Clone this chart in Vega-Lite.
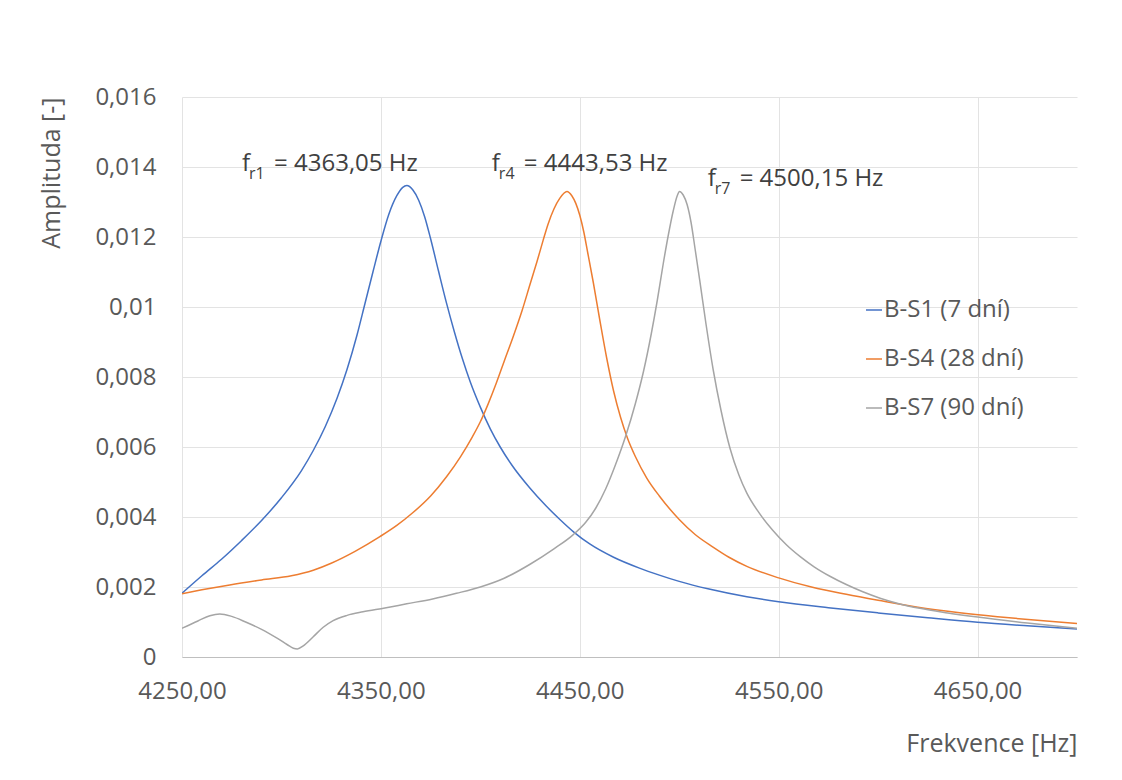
{
  "$schema": "https://vega.github.io/schema/vega-lite/v6.json",
  "width": 895,
  "height": 560,
  "autosize": "none",
  "padding": {"left": 182, "top": 97, "right": 45, "bottom": 123},
  "background": "white",
  "config": {
    "font": "Open Sans",
    "view": {"stroke": null},
    "axis": {
      "labelFont": "Open Sans",
      "titleFont": "Open Sans",
      "labelFontSize": 24,
      "titleFontSize": 25,
      "titleFontWeight": "normal",
      "labelColor": "#595959",
      "titleColor": "#595959",
      "ticks": false,
      "gridColor": "#e3e3e3",
      "gridWidth": 1
    },
    "legend": {
      "labelFont": "Open Sans",
      "labelFontSize": 24,
      "labelColor": "#595959"
    }
  },
  "datasets": {
    "curves": [
      {"s": "B-S1 (7 dní)", "f": 4250, "A": 0.00182},
      {"s": "B-S1 (7 dní)", "f": 4260, "A": 0.00232},
      {"s": "B-S1 (7 dní)", "f": 4270, "A": 0.0028},
      {"s": "B-S1 (7 dní)", "f": 4280, "A": 0.00333},
      {"s": "B-S1 (7 dní)", "f": 4290, "A": 0.0039},
      {"s": "B-S1 (7 dní)", "f": 4300, "A": 0.00455},
      {"s": "B-S1 (7 dní)", "f": 4310, "A": 0.00532},
      {"s": "B-S1 (7 dní)", "f": 4316, "A": 0.0059},
      {"s": "B-S1 (7 dní)", "f": 4322, "A": 0.00658},
      {"s": "B-S1 (7 dní)", "f": 4328, "A": 0.0074},
      {"s": "B-S1 (7 dní)", "f": 4333, "A": 0.00822},
      {"s": "B-S1 (7 dní)", "f": 4338, "A": 0.0092},
      {"s": "B-S1 (7 dní)", "f": 4342, "A": 0.0101},
      {"s": "B-S1 (7 dní)", "f": 4346, "A": 0.011},
      {"s": "B-S1 (7 dní)", "f": 4350, "A": 0.01188},
      {"s": "B-S1 (7 dní)", "f": 4354, "A": 0.01265},
      {"s": "B-S1 (7 dní)", "f": 4358, "A": 0.01318},
      {"s": "B-S1 (7 dní)", "f": 4361, "A": 0.01342},
      {"s": "B-S1 (7 dní)", "f": 4363.05, "A": 0.01347},
      {"s": "B-S1 (7 dní)", "f": 4366, "A": 0.01335},
      {"s": "B-S1 (7 dní)", "f": 4369, "A": 0.01305},
      {"s": "B-S1 (7 dní)", "f": 4372, "A": 0.01258},
      {"s": "B-S1 (7 dní)", "f": 4375, "A": 0.01195},
      {"s": "B-S1 (7 dní)", "f": 4379, "A": 0.01102},
      {"s": "B-S1 (7 dní)", "f": 4383, "A": 0.01011},
      {"s": "B-S1 (7 dní)", "f": 4387, "A": 0.00928},
      {"s": "B-S1 (7 dní)", "f": 4391, "A": 0.00852},
      {"s": "B-S1 (7 dní)", "f": 4395, "A": 0.00785},
      {"s": "B-S1 (7 dní)", "f": 4400, "A": 0.00714},
      {"s": "B-S1 (7 dní)", "f": 4405, "A": 0.00652},
      {"s": "B-S1 (7 dní)", "f": 4410, "A": 0.006},
      {"s": "B-S1 (7 dní)", "f": 4416, "A": 0.00547},
      {"s": "B-S1 (7 dní)", "f": 4425, "A": 0.00482},
      {"s": "B-S1 (7 dní)", "f": 4433, "A": 0.00432},
      {"s": "B-S1 (7 dní)", "f": 4440, "A": 0.00393},
      {"s": "B-S1 (7 dní)", "f": 4447, "A": 0.00357},
      {"s": "B-S1 (7 dní)", "f": 4455, "A": 0.00323},
      {"s": "B-S1 (7 dní)", "f": 4467, "A": 0.00285},
      {"s": "B-S1 (7 dní)", "f": 4480, "A": 0.00254},
      {"s": "B-S1 (7 dní)", "f": 4490, "A": 0.00234},
      {"s": "B-S1 (7 dní)", "f": 4500, "A": 0.00216},
      {"s": "B-S1 (7 dní)", "f": 4515, "A": 0.00194},
      {"s": "B-S1 (7 dní)", "f": 4534, "A": 0.00172},
      {"s": "B-S1 (7 dní)", "f": 4550, "A": 0.00158},
      {"s": "B-S1 (7 dní)", "f": 4575, "A": 0.00141},
      {"s": "B-S1 (7 dní)", "f": 4600, "A": 0.00126},
      {"s": "B-S1 (7 dní)", "f": 4625, "A": 0.00112},
      {"s": "B-S1 (7 dní)", "f": 4650, "A": 0.00099},
      {"s": "B-S1 (7 dní)", "f": 4675, "A": 0.00089},
      {"s": "B-S1 (7 dní)", "f": 4700, "A": 0.0008},

      {"s": "B-S4 (28 dní)", "f": 4250, "A": 0.00181},
      {"s": "B-S4 (28 dní)", "f": 4260, "A": 0.00192},
      {"s": "B-S4 (28 dní)", "f": 4274, "A": 0.00206},
      {"s": "B-S4 (28 dní)", "f": 4290, "A": 0.0022},
      {"s": "B-S4 (28 dní)", "f": 4305, "A": 0.00232},
      {"s": "B-S4 (28 dní)", "f": 4316, "A": 0.00248},
      {"s": "B-S4 (28 dní)", "f": 4325, "A": 0.00268},
      {"s": "B-S4 (28 dní)", "f": 4337, "A": 0.00302},
      {"s": "B-S4 (28 dní)", "f": 4349.5, "A": 0.00344},
      {"s": "B-S4 (28 dní)", "f": 4358, "A": 0.00376},
      {"s": "B-S4 (28 dní)", "f": 4366, "A": 0.00412},
      {"s": "B-S4 (28 dní)", "f": 4375, "A": 0.0046},
      {"s": "B-S4 (28 dní)", "f": 4383, "A": 0.00515},
      {"s": "B-S4 (28 dní)", "f": 4390, "A": 0.00572},
      {"s": "B-S4 (28 dní)", "f": 4396, "A": 0.00629},
      {"s": "B-S4 (28 dní)", "f": 4400, "A": 0.00672},
      {"s": "B-S4 (28 dní)", "f": 4404, "A": 0.00724},
      {"s": "B-S4 (28 dní)", "f": 4408, "A": 0.00782},
      {"s": "B-S4 (28 dní)", "f": 4412, "A": 0.00845},
      {"s": "B-S4 (28 dní)", "f": 4416.5, "A": 0.00915},
      {"s": "B-S4 (28 dní)", "f": 4421, "A": 0.0099},
      {"s": "B-S4 (28 dní)", "f": 4425, "A": 0.01065},
      {"s": "B-S4 (28 dní)", "f": 4428.5, "A": 0.0113},
      {"s": "B-S4 (28 dní)", "f": 4431.6, "A": 0.01191},
      {"s": "B-S4 (28 dní)", "f": 4434, "A": 0.01236},
      {"s": "B-S4 (28 dní)", "f": 4437, "A": 0.0128},
      {"s": "B-S4 (28 dní)", "f": 4440, "A": 0.01311},
      {"s": "B-S4 (28 dní)", "f": 4443.53, "A": 0.0133},
      {"s": "B-S4 (28 dní)", "f": 4446, "A": 0.01318},
      {"s": "B-S4 (28 dní)", "f": 4448, "A": 0.01296},
      {"s": "B-S4 (28 dní)", "f": 4450, "A": 0.01262},
      {"s": "B-S4 (28 dní)", "f": 4452, "A": 0.01215},
      {"s": "B-S4 (28 dní)", "f": 4454, "A": 0.01155},
      {"s": "B-S4 (28 dní)", "f": 4456.8, "A": 0.0107},
      {"s": "B-S4 (28 dní)", "f": 4460, "A": 0.00965},
      {"s": "B-S4 (28 dní)", "f": 4463.5, "A": 0.00855},
      {"s": "B-S4 (28 dní)", "f": 4467, "A": 0.0076},
      {"s": "B-S4 (28 dní)", "f": 4470.5, "A": 0.00685},
      {"s": "B-S4 (28 dní)", "f": 4474, "A": 0.00625},
      {"s": "B-S4 (28 dní)", "f": 4478, "A": 0.00572},
      {"s": "B-S4 (28 dní)", "f": 4483.6, "A": 0.00512},
      {"s": "B-S4 (28 dní)", "f": 4490, "A": 0.0046},
      {"s": "B-S4 (28 dní)", "f": 4500, "A": 0.00393},
      {"s": "B-S4 (28 dní)", "f": 4508, "A": 0.0035},
      {"s": "B-S4 (28 dní)", "f": 4517, "A": 0.00314},
      {"s": "B-S4 (28 dní)", "f": 4525, "A": 0.00285},
      {"s": "B-S4 (28 dní)", "f": 4534, "A": 0.00259},
      {"s": "B-S4 (28 dní)", "f": 4550, "A": 0.00226},
      {"s": "B-S4 (28 dní)", "f": 4567, "A": 0.00199},
      {"s": "B-S4 (28 dní)", "f": 4584, "A": 0.00179},
      {"s": "B-S4 (28 dní)", "f": 4600, "A": 0.00162},
      {"s": "B-S4 (28 dní)", "f": 4620, "A": 0.00142},
      {"s": "B-S4 (28 dní)", "f": 4640, "A": 0.00127},
      {"s": "B-S4 (28 dní)", "f": 4660, "A": 0.00115},
      {"s": "B-S4 (28 dní)", "f": 4680, "A": 0.00105},
      {"s": "B-S4 (28 dní)", "f": 4700, "A": 0.00096},

      {"s": "B-S7 (90 dní)", "f": 4250, "A": 0.00082},
      {"s": "B-S7 (90 dní)", "f": 4258, "A": 0.00103},
      {"s": "B-S7 (90 dní)", "f": 4264, "A": 0.00118},
      {"s": "B-S7 (90 dní)", "f": 4269, "A": 0.00123},
      {"s": "B-S7 (90 dní)", "f": 4275, "A": 0.00116},
      {"s": "B-S7 (90 dní)", "f": 4282, "A": 0.001},
      {"s": "B-S7 (90 dní)", "f": 4290, "A": 0.00079},
      {"s": "B-S7 (90 dní)", "f": 4298, "A": 0.00053},
      {"s": "B-S7 (90 dní)", "f": 4303, "A": 0.00035},
      {"s": "B-S7 (90 dní)", "f": 4306, "A": 0.00025},
      {"s": "B-S7 (90 dní)", "f": 4308, "A": 0.00023},
      {"s": "B-S7 (90 dní)", "f": 4311, "A": 0.00032},
      {"s": "B-S7 (90 dní)", "f": 4316, "A": 0.00058},
      {"s": "B-S7 (90 dní)", "f": 4321, "A": 0.00085},
      {"s": "B-S7 (90 dní)", "f": 4326, "A": 0.00104},
      {"s": "B-S7 (90 dní)", "f": 4333, "A": 0.00119},
      {"s": "B-S7 (90 dní)", "f": 4341, "A": 0.00129},
      {"s": "B-S7 (90 dní)", "f": 4352, "A": 0.0014},
      {"s": "B-S7 (90 dní)", "f": 4363, "A": 0.00152},
      {"s": "B-S7 (90 dní)", "f": 4376, "A": 0.00166},
      {"s": "B-S7 (90 dní)", "f": 4388, "A": 0.00182},
      {"s": "B-S7 (90 dní)", "f": 4400, "A": 0.002},
      {"s": "B-S7 (90 dní)", "f": 4412, "A": 0.00225},
      {"s": "B-S7 (90 dní)", "f": 4425, "A": 0.00265},
      {"s": "B-S7 (90 dní)", "f": 4437, "A": 0.00309},
      {"s": "B-S7 (90 dní)", "f": 4446.6, "A": 0.00349},
      {"s": "B-S7 (90 dní)", "f": 4453, "A": 0.00385},
      {"s": "B-S7 (90 dní)", "f": 4458, "A": 0.00425},
      {"s": "B-S7 (90 dní)", "f": 4463, "A": 0.0048},
      {"s": "B-S7 (90 dní)", "f": 4468, "A": 0.0055},
      {"s": "B-S7 (90 dní)", "f": 4473, "A": 0.0063},
      {"s": "B-S7 (90 dní)", "f": 4478, "A": 0.00725},
      {"s": "B-S7 (90 dní)", "f": 4482, "A": 0.00815},
      {"s": "B-S7 (90 dní)", "f": 4486, "A": 0.00925},
      {"s": "B-S7 (90 dní)", "f": 4489, "A": 0.0102},
      {"s": "B-S7 (90 dní)", "f": 4492, "A": 0.01125},
      {"s": "B-S7 (90 dní)", "f": 4494.5, "A": 0.01205},
      {"s": "B-S7 (90 dní)", "f": 4497, "A": 0.01275},
      {"s": "B-S7 (90 dní)", "f": 4499, "A": 0.01318},
      {"s": "B-S7 (90 dní)", "f": 4500.15, "A": 0.0133},
      {"s": "B-S7 (90 dní)", "f": 4502, "A": 0.0132},
      {"s": "B-S7 (90 dní)", "f": 4504, "A": 0.01292},
      {"s": "B-S7 (90 dní)", "f": 4506, "A": 0.0124},
      {"s": "B-S7 (90 dní)", "f": 4508, "A": 0.01165},
      {"s": "B-S7 (90 dní)", "f": 4510.3, "A": 0.01077},
      {"s": "B-S7 (90 dní)", "f": 4513.5, "A": 0.0095},
      {"s": "B-S7 (90 dní)", "f": 4517.1, "A": 0.0082},
      {"s": "B-S7 (90 dní)", "f": 4521, "A": 0.00705},
      {"s": "B-S7 (90 dní)", "f": 4525.6, "A": 0.00595},
      {"s": "B-S7 (90 dní)", "f": 4530, "A": 0.0052},
      {"s": "B-S7 (90 dní)", "f": 4534, "A": 0.00468},
      {"s": "B-S7 (90 dní)", "f": 4540, "A": 0.00413},
      {"s": "B-S7 (90 dní)", "f": 4547, "A": 0.00362},
      {"s": "B-S7 (90 dní)", "f": 4554, "A": 0.0032},
      {"s": "B-S7 (90 dní)", "f": 4561, "A": 0.00286},
      {"s": "B-S7 (90 dní)", "f": 4568, "A": 0.00257},
      {"s": "B-S7 (90 dní)", "f": 4576, "A": 0.0023},
      {"s": "B-S7 (90 dní)", "f": 4584, "A": 0.00207},
      {"s": "B-S7 (90 dní)", "f": 4592, "A": 0.00187},
      {"s": "B-S7 (90 dní)", "f": 4601, "A": 0.00168},
      {"s": "B-S7 (90 dní)", "f": 4610, "A": 0.00153},
      {"s": "B-S7 (90 dní)", "f": 4621, "A": 0.00139},
      {"s": "B-S7 (90 dní)", "f": 4635, "A": 0.00126},
      {"s": "B-S7 (90 dní)", "f": 4650, "A": 0.00114},
      {"s": "B-S7 (90 dní)", "f": 4675, "A": 0.00097},
      {"s": "B-S7 (90 dní)", "f": 4700, "A": 0.00082}
    ],
    "ann": [
      {"f": 4280.2, "A": 0.01389, "lead": "f", "sub": "r1", "rest": "= 4363,05 Hz"},
      {"f": 4405.8, "A": 0.01389, "lead": "f", "sub": "r4", "rest": "= 4443,53 Hz"},
      {"f": 4514.3, "A": 0.01346, "lead": "f", "sub": "r7", "rest": "= 4500,15 Hz"}
    ]
  },
  "layer": [
    {
      "data": {"name": "curves"},
      "mark": {"type": "line", "interpolate": "monotone", "strokeWidth": 1.5, "clip": true},
      "encoding": {
        "x": {
          "field": "f", "type": "quantitative",
          "scale": {"domain": [4250, 4700], "nice": false, "zero": false},
          "axis": {
            "title": "Frekvence [Hz]",
            "titleAnchor": "end",
            "titlePadding": 28,
            "values": [4250, 4350, 4450, 4550, 4650],
            "labelExpr": "replace(format(datum.value, '.2f'), '.', ',')",
            "labelPadding": 22,
            "labelFlush": false,
            "domain": true,
            "domainColor": "#bfbfbf",
            "domainWidth": 1,
            "grid": true
          }
        },
        "y": {
          "field": "A", "type": "quantitative",
          "scale": {"domain": [0, 0.016], "nice": false},
          "axis": {
            "title": "Amplituda [-]",
            "titleAnchor": "end",
            "titlePadding": 30,
            "values": [0, 0.002, 0.004, 0.006, 0.008, 0.01, 0.012, 0.014, 0.016],
            "labelExpr": "replace(format(datum.value, '~g'), '.', ',')",
            "labelPadding": 26,
            "labelFlush": false,
            "domain": false,
            "grid": true
          }
        },
        "color": {
          "field": "s", "type": "nominal",
          "scale": {
            "domain": ["B-S1 (7 dní)", "B-S4 (28 dní)", "B-S7 (90 dní)"],
            "range": ["#4472C4", "#ED7D31", "#A5A5A5"]
          },
          "legend": {
            "title": null,
            "orient": "none",
            "legendX": 680,
            "legendY": 201,
            "padding": 0,
            "symbolType": "stroke",
            "symbolSize": 256,
            "symbolStrokeWidth": 1.5,
            "labelOffset": -2,
            "rowPadding": 25
          }
        }
      }
    },
    {
      "data": {"name": "ann"},
      "mark": {"type": "text", "align": "left", "baseline": "alphabetic", "fontSize": 24, "color": "#404040", "font": "Open Sans"},
      "encoding": {
        "x": {"field": "f", "type": "quantitative"},
        "y": {"field": "A", "type": "quantitative"},
        "text": {"field": "lead"}
      }
    },
    {
      "data": {"name": "ann"},
      "mark": {"type": "text", "align": "left", "baseline": "alphabetic", "fontSize": 16, "dx": 7, "dy": 8, "color": "#404040", "font": "Open Sans"},
      "encoding": {
        "x": {"field": "f", "type": "quantitative"},
        "y": {"field": "A", "type": "quantitative"},
        "text": {"field": "sub"}
      }
    },
    {
      "data": {"name": "ann"},
      "mark": {"type": "text", "align": "left", "baseline": "alphabetic", "fontSize": 24, "dx": 32, "color": "#404040", "font": "Open Sans"},
      "encoding": {
        "x": {"field": "f", "type": "quantitative"},
        "y": {"field": "A", "type": "quantitative"},
        "text": {"field": "rest"}
      }
    }
  ]
}
